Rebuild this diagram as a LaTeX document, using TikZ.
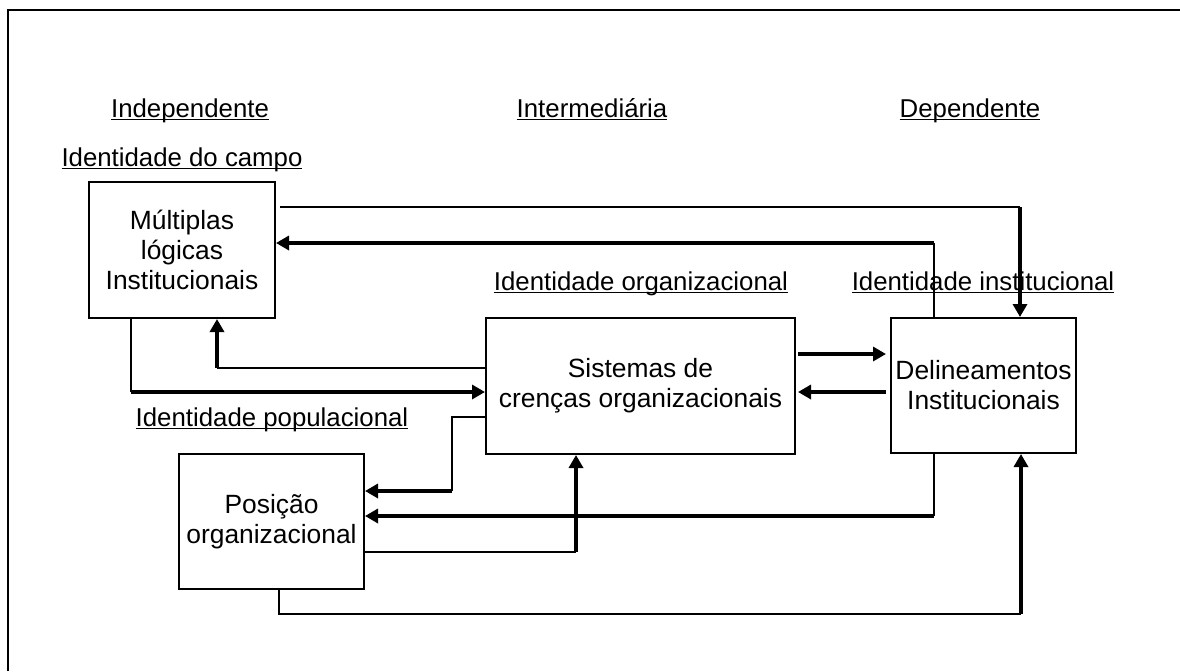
\documentclass[tikz,border=0pt]{standalone}
\usepackage{fontspec}
\setmainfont{Liberation Sans}
\usetikzlibrary{arrows.meta}
\newcommand\myul[1]{\setbox0\hbox{#1}\rlap{\rule[-1.7pt]{\wd0}{0.7pt}}\box0}
\begin{document}
\begin{tikzpicture}[x=0.5pt,y=-0.5pt,
  every node/.style={font=\fontsize{12.9}{15}\selectfont},
  box/.style={draw,line width=1pt,align=center,inner sep=0pt,font=\fontsize{13.2}{15}\selectfont},
  lbl/.style={anchor=base,inner sep=0pt},
  thinline/.style={line width=0.75pt},
  thickarrow/.style={line width=1.7pt,-{Triangle[length=6.5pt,width=7pt]}},
  thickline/.style={line width=1.7pt}]
\useasboundingbox (0,0) rectangle (1180,671);
\draw[line width=0.9pt] (8,671) -- (8,10) -- (1180,10);
% boxes
\node[box,minimum width=93pt,minimum height=68pt] (A) at (182,250) {Múltiplas\\lógicas\\Institucionais};
\node[box,minimum width=154.5pt,minimum height=68pt] (B) at (640.5,386) {Sistemas de\\crenças organizacionais};
\node[box,minimum width=92.5pt,minimum height=67.5pt] (C) at (983.5,385.5) {Delineamentos\\Institucionais};
\node[box,minimum width=92.5pt,minimum height=67.5pt] (D) at (271.5,521.5) {Posição\\organizacional};
% labels
\node[lbl] (l1) at (190,117) {\myul{Independente}};
\node[lbl] (l2) at (592,117) {\myul{Intermediária}};
\node[lbl] (l3) at (970,117) {\myul{Dependente}};
\node[lbl] (l4) at (182,166) {\myul{Identidade do campo}};
\node[lbl] (l5) at (641,290) {\myul{Identidade organizacional}};
\node[lbl] (l6) at (983,290) {\myul{Identidade institucional}};
\node[lbl] (l7) at (272,426) {\myul{Identidade populacional}};
% bend coordinates
\coordinate (k1) at (1020,207);
\coordinate (k2) at (934,243);
\coordinate (k3) at (131,392);
\coordinate (k4) at (217,368);
\coordinate (k5a) at (452,417);
\coordinate (k5b) at (452,491);
\coordinate (k6) at (934,516);
\coordinate (k7) at (576,552);
\coordinate (k8a) at (279,614);
\coordinate (k8b) at (1021,614);
\coordinate (k9) at (0,354);
\coordinate (k10) at (0,392);
% 1: A -> C (top)
\draw[thinline] ([xshift=2pt]A.east |- k1) -- (k1);
\draw[thickarrow] (k1) -- (k1 |- C.north);
% 2: C -> A
\draw[thinline] (C.north -| k2) -- (k2);
\draw[thickarrow] (k2) -- (A.east |- k2);
% 3: A -> B
\draw[thinline] (A.south -| k3) -- (k3);
\draw[thickarrow] (k3) -- (B.west |- k3);
% 4: B -> A
\draw[thinline] (B.west |- k4) -- (k4);
\draw[thickarrow] (k4) -- (k4 |- A.south);
% 5: B <-> C
\draw[thickarrow] ([xshift=1pt]B.east |- k9) -- ([xshift=-2pt]C.west |- k9);
\draw[thickarrow] ([xshift=-2pt]C.west |- k10) -- ([xshift=1pt]B.east |- k10);
% 6: B -> D
\draw[thinline] (B.west |- k5a) -- (k5a) -- (k5b);
\draw[thickarrow] (k5b) -- (D.east |- k5b);
% 7: C -> D
\draw[thinline] (C.south -| k6) -- (k6);
\draw[thickarrow] (k6) -- (D.east |- k6);
% 8: D -> B
\draw[thinline] (D.east |- k7) -- (k7);
\draw[thickarrow] (k7) -- (k7 |- B.south);
% 9: D -> C
\draw[thinline] (D.south -| k8a) -- (k8a) -- (k8b);
\draw[thickarrow] (k8b) -- (k8b |- C.south);
\end{tikzpicture}
\end{document}
